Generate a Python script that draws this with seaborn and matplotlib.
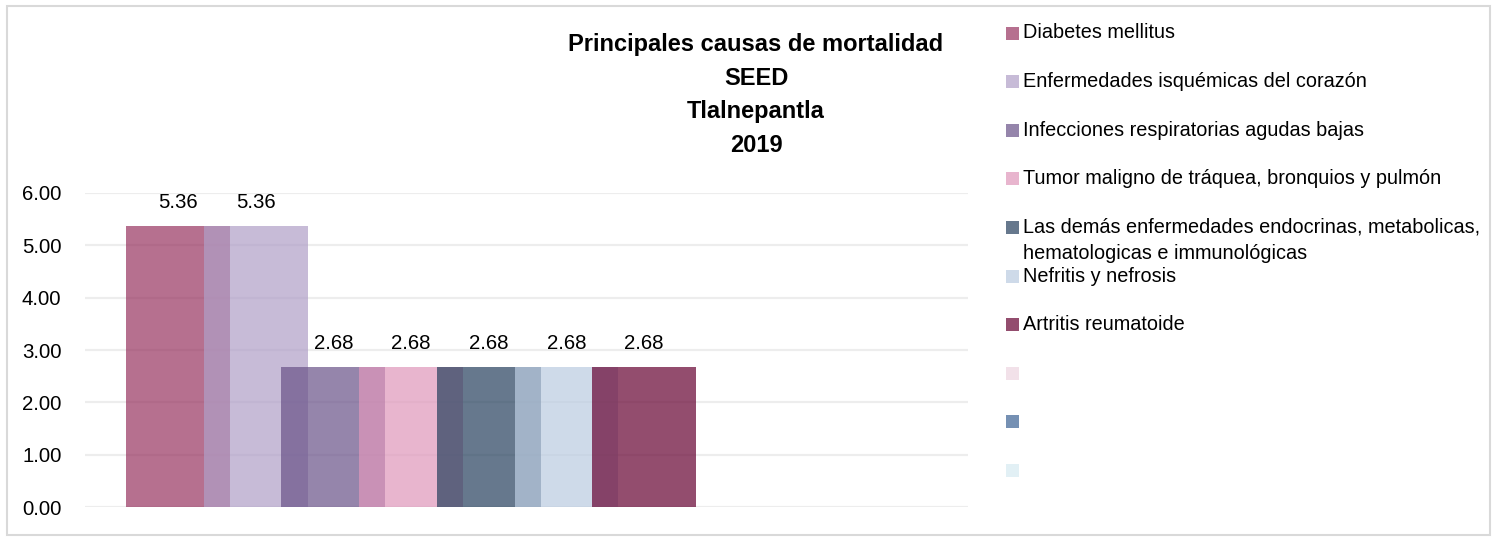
import numpy as np
import pandas as pd
import matplotlib
matplotlib.use("Agg")
import matplotlib.pyplot as plt
from matplotlib.patches import Rectangle
from matplotlib.ticker import FormatStrFormatter
import seaborn as sns

# --- Datos ---
causas = [
    "Diabetes mellitus",
    "Enfermedades isquémicas del corazón",
    "Infecciones respiratorias agudas bajas",
    "Tumor maligno de tráquea, bronquios y pulmón",
    "Las demás enfermedades endocrinas, metabolicas,\nhematologicas e immunológicas",
    "Nefritis y nefrosis",
    "Artritis reumatoide",
    "",
    " ",
    "  ",
]
tasas = [5.36, 5.36, 2.68, 2.68, 2.68, 2.68, 2.68, np.nan, np.nan, np.nan]
colores = ["#983561", "#B09FC7", "#6A5389", "#DF97BB", "#27415E",
           "#BBCCE1", "#670433", "#EED5E0", "#3D6394", "#D7EBF2"]
ALPHA = 0.71

df = pd.DataFrame({"causa": causas, "tasa": tasas})

# --- Estilo ---
sns.set_theme(style="whitegrid")
plt.rcParams["font.family"] = ["Liberation Sans Narrow", "Liberation Sans", "DejaVu Sans"]
FS_NUM = 14.7
FS_LEY = 14.3

W, H = 1492, 537
fig = plt.figure(figsize=(W / 100, H / 100), dpi=100)
ax = fig.add_axes([85 / W, (H - 507.3) / H, (968 - 85) / W, 314.6 / H])

sns.barplot(data=df, x="causa", y="tasa", hue="causa", order=causas,
            hue_order=causas, palette=colores, saturation=1, width=1.338,
            alpha=ALPHA, linewidth=0, legend=False, ax=ax)

for cont in ax.containers:
    ax.bar_label(cont, fmt="%.2f", padding=10, fontsize=FS_NUM, color="black")

ax.set_ylim(0, 6)
ax.set_xlim(-1.197, 10.167)
ax.set_yticks(np.arange(0, 7, 1))
ax.yaxis.set_major_formatter(FormatStrFormatter("%.2f"))
ax.set_xticks([])
ax.set_xlabel("")
ax.set_ylabel("")
ax.tick_params(axis="y", length=0, pad=17, labelsize=FS_NUM, labelcolor="black")
ax.grid(axis="y", color="#EDEDED", linewidth=1.6)
ax.grid(axis="x", visible=False)
for s in ax.spines.values():
    s.set_visible(False)

# --- Título ---
fig.text(756 / W, 1 - 33 / H,
         "Principales causas de mortalidad\nSEED\nTlalnepantla\n2019",
         ha="center", va="top", fontsize=17, fontweight="bold",
         linespacing=1.59, color="black")

# --- Leyenda ---
y0, paso = 33, 48.6
for i, (nombre, col) in enumerate(zip(causas, colores)):
    yc = y0 + paso * i
    fig.add_artist(Rectangle((1006 / W, 1 - (yc + 6.5) / H), 13 / W, 13 / H,
                             transform=fig.transFigure, facecolor=col,
                             alpha=ALPHA, edgecolor="none"))
    if nombre.strip():
        if "\n" in nombre:
            fig.text(1023 / W, 1 - (yc - 10) / H, nombre, ha="left", va="top",
                     fontsize=FS_LEY, linespacing=1.49, color="black")
        else:
            fig.text(1023 / W, 1 - yc / H, nombre, ha="left", va="center",
                     fontsize=FS_LEY, color="black")

# --- Marco ---
fig.add_artist(Rectangle((7 / W, 2 / H), (1490 - 7) / W, (535 - 6) / H,
                         transform=fig.transFigure, fill=False,
                         edgecolor="#D9D9D9", linewidth=1.5))

fig.savefig("out.png", dpi=100, facecolor="white")
